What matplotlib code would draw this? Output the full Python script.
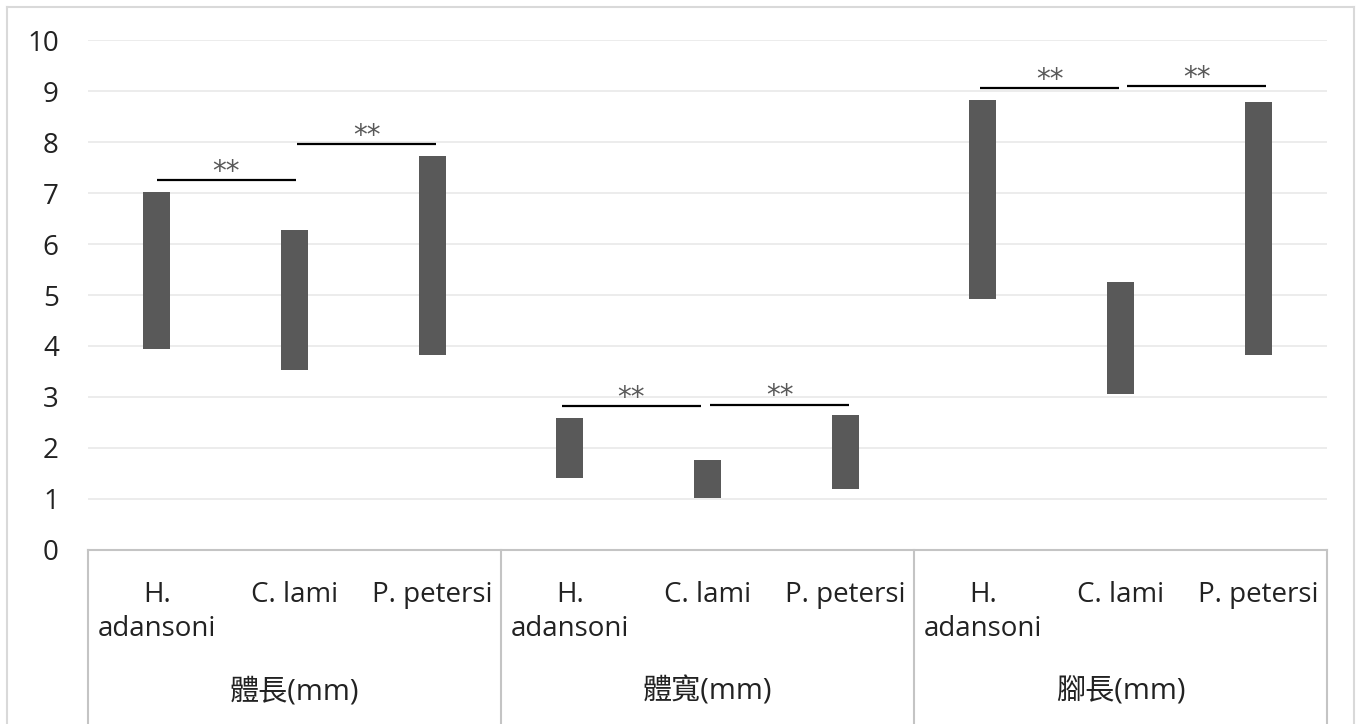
import numpy as np
import matplotlib
matplotlib.use("Agg")
import matplotlib.pyplot as plt
from matplotlib.lines import Line2D

# data
groups = ['體長(mm)', '體寬(mm)', '腳長(mm)']
species = ['H.\nadansoni', 'C. lami', 'P. petersi']
bar_low = [3.95, 3.53, 3.82, 1.40, 1.01, 1.19, 4.92, 3.05, 3.82]
bar_high = [7.02, 6.27, 7.73, 2.58, 1.76, 2.64, 8.83, 5.26, 8.78]

# significance brackets (x in category index units)
sig_start = [0.00, 1.02, 2.94, 4.02, 5.98, 7.05]
sig_end = [1.01, 2.03, 3.95, 5.03, 6.99, 8.06]
sig_y = [7.25, 7.96, 2.82, 2.85, 9.06, 9.10]
sig_label = ['**'] * 6

plt.rcParams['font.family'] = ['Open Sans', 'Noto Sans CJK TC', 'DejaVu Sans']
text_color = '#222222'

W, H = 1359, 724
fig = plt.figure(figsize=(W / 100, H / 100), dpi=100)
ax_l, ax_r, ax_t, ax_b = 88, 1327, 40.3, 549.8
ax = fig.add_axes([ax_l / W, (H - ax_b) / H, (ax_r - ax_l) / W, (ax_b - ax_t) / H])

x = np.arange(len(bar_low))
ax.bar(x, np.array(bar_high) - np.array(bar_low), bottom=bar_low,
       width=0.195, color='#595959', zorder=3)

for x0, x1, y, lab in zip(sig_start, sig_end, sig_y, sig_label):
    ax.plot([x0, x1], [y, y], color='black', lw=1.6, zorder=4,
            solid_capstyle='butt')
    ax.annotate(lab, ((x0 + x1) / 2, y), xytext=(0, 6), textcoords='offset points',
                ha='center', va='center', fontsize=20, color='#595959',
                family='DejaVu Sans')

ax.set_xlim(-0.5, 8.5)
ax.set_ylim(0, 10)
ax.set_yticks(range(0, 11))
ax.tick_params(axis='y', length=0, pad=21, labelsize=20, labelcolor=text_color)
ax.set_xticks([])
ax.grid(axis='y', color='#EBEBEB', lw=1.3, zorder=0)
for s in ['left', 'right', 'top']:
    ax.spines[s].set_visible(False)
ax.spines['bottom'].set_color('#C4C4C4')
ax.spines['bottom'].set_linewidth(1.5)

# multi-level category axis
axis_px = ax_b - ax_t
bottom_y = -(H - ax_b) / axis_px
trans = ax.get_xaxis_transform()
for b in [-0.5, 2.5, 5.5, 8.5]:
    ax.plot([b, b], [0, bottom_y], color='#C4C4C4', lw=1.5, transform=trans,
            clip_on=False)

n = len(species)
for gi, g in enumerate(groups):
    for si, sp in enumerate(species):
        ax.text(gi * n + si, -(581 - ax_b) / axis_px, sp, transform=trans,
                ha='center', va='top', fontsize=20, color=text_color,
                linespacing=1.3, multialignment='center')
    ax.text(gi * n + 1, -(692 - ax_b) / axis_px, g, transform=trans,
            ha='center', va='center', fontsize=21, color=text_color)

# chart border
bc = '#D9D9D9'
fig.add_artist(Line2D([7 / W, 7 / W], [0, 1 - 7 / H], color=bc, lw=1.5))
fig.add_artist(Line2D([1354 / W, 1354 / W], [0, 1 - 7 / H], color=bc, lw=1.5))
fig.add_artist(Line2D([7 / W, 1354 / W], [1 - 7 / H, 1 - 7 / H], color=bc, lw=1.5))

fig.savefig('out.png', dpi=100)
